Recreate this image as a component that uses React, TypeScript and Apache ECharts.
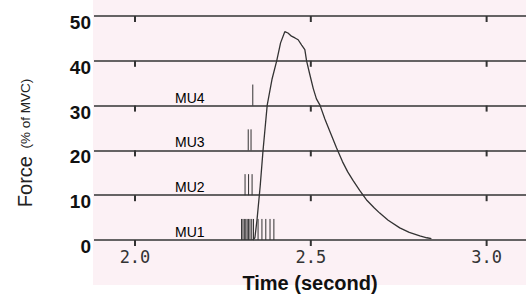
import React, { useEffect, useRef } from "react";
import * as echarts from "echarts";

const xTicks = [2.0, 2.5, 3.0];
const yTicks = [0, 10, 20, 30, 40, 50];

const forceT = [2.335, 2.341, 2.347, 2.356, 2.364, 2.370, 2.376, 2.390, 2.403, 2.414, 2.426, 2.435, 2.445, 2.455, 2.464, 2.474, 2.483, 2.488, 2.497, 2.507, 2.516, 2.526, 2.540, 2.554, 2.573, 2.590, 2.605, 2.620, 2.639, 2.660, 2.680, 2.696, 2.720, 2.753, 2.780, 2.810, 2.830, 2.843];
const forceV = [0, 0.5, 4.5, 12, 19.9, 25, 30.1, 36, 40, 44, 46.5, 46.2, 45.5, 45.1, 44.7, 43.5, 42.5, 40, 37, 33.8, 31.5, 30.1, 27, 24.3, 20.6, 17.5, 15.2, 13.3, 11.1, 8.8, 7.2, 6.0, 4.4, 2.7, 1.7, 0.9, 0.5, 0.3];

const muNames = ["MU1", "MU2", "MU3", "MU4"];
const muBases = [0, 10, 20, 30];
const muLabelT = 2.156;
const muLabelLift = 1.8;
const muSpikeHeight = 4.7;
const mu1T = [2.303, 2.307, 2.311, 2.315, 2.319, 2.323, 2.327, 2.332, 2.337, 2.350, 2.361, 2.372, 2.384, 2.395];
const mu2T = [2.313, 2.323, 2.333];
const mu3T = [2.322, 2.330];
const mu4T = [2.335];
const muTimes = [mu1T, mu2T, mu3T, mu4T];

export default function App() {
  const ref = useRef<HTMLDivElement>(null);
  useEffect(() => {
    if (!ref.current) return;
    const chart = echarts.init(ref.current, undefined, { renderer: "svg" });
    const spikeData: number[][] = [];
    muTimes.forEach((ts, i) => ts.forEach((t) => spikeData.push([t, muBases[i], muBases[i] + muSpikeHeight])));
    const tickData: number[][] = [];
    xTicks.forEach((x) => yTicks.forEach((y) => tickData.push([x, y])));
    const gridColor = "#333";
    chart.setOption({
      animation: false,
      backgroundColor: "#ffffff",
      graphic: [
        {
          type: "rect",
          z: -10,
          silent: true,
          shape: { x: 93, y: 0, width: 433, height: 285 },
          style: { fill: "#fcf1f5" },
        },
        {
          type: "text",
          x: 25,
          y: 143,
          rotation: Math.PI / 2,
          silent: true,
          style: {
            text: "{a|Force}{b|  (% of MVC)}",
            align: "center",
            verticalAlign: "middle",
            rich: {
              a: { fontFamily: "Liberation Sans", fontSize: 20, fill: "#222" },
              b: { fontFamily: "Liberation Sans", fontSize: 13.5, fill: "#222" },
            },
          },
        },
      ],
      grid: { left: 94, right: 0, top: 16, bottom: 54 },
      xAxis: {
        type: "value",
        min: 1.8834,
        max: 3.112,
        axisLine: { show: false },
        axisTick: { show: false },
        splitLine: { show: false },
        axisLabel: {
          customValues: xTicks,
          formatter: (v: number) => v.toFixed(1),
          fontFamily: "DejaVu Sans Mono",
          fontSize: 17,
          color: "#333",
          margin: 8,
        },
        name: "Time (second)",
        nameLocation: "middle",
        nameGap: 33,
        nameTextStyle: { fontFamily: "Liberation Sans", fontWeight: "bold", fontSize: 20, color: "#111" },
      },
      yAxis: {
        type: "value",
        min: 0,
        max: 50,
        interval: 10,
        axisLine: { show: false },
        axisTick: { show: false },
        splitLine: { show: true, lineStyle: { color: gridColor, width: 1.6 } },
        axisLabel: {
          fontFamily: "Liberation Sans",
          fontWeight: "bold",
          fontSize: 19,
          color: "#111",
          margin: 3,
          verticalAlign: "top",
          lineHeight: 13,
        },
      },
      series: [
        {
          type: "custom",
          silent: true,
          data: tickData,
          renderItem: (params: any, api: any) => {
            const p = api.coord([api.value(0), api.value(1)]);
            return {
              type: "line",
              shape: { x1: p[0], y1: p[1], x2: p[0], y2: p[1] + 6 },
              style: { stroke: gridColor, lineWidth: 2 },
            };
          },
        },
        {
          type: "custom",
          silent: true,
          data: spikeData,
          renderItem: (params: any, api: any) => {
            const p1 = api.coord([api.value(0), api.value(1)]);
            const p2 = api.coord([api.value(0), api.value(2)]);
            return {
              type: "line",
              shape: { x1: p1[0], y1: p1[1], x2: p2[0], y2: p2[1] },
              style: { stroke: "#333", lineWidth: 1 },
            };
          },
        },
        {
          type: "line",
          data: forceT.map((t, i) => [t, forceV[i]]),
          showSymbol: false,
          symbol: "none",
          lineStyle: { color: "#333", width: 1.3 },
          z: 5,
        },
        {
          type: "custom",
          silent: true,
          data: muNames.map((n, i) => [muLabelT, muBases[i] + muLabelLift]),
          renderItem: (params: any, api: any) => {
            const p = api.coord([api.value(0), api.value(1)]);
            return {
              type: "text",
              x: p[0],
              y: p[1],
              style: {
                text: muNames[params.dataIndex],
                align: "center",
                verticalAlign: "middle",
                fontFamily: "Liberation Sans",
                fontSize: 14,
                fill: "#000",
              },
            };
          },
        },
      ],
    });
    return () => chart.dispose();
  }, []);
  return <div ref={ref} style={{ width: 526, height: 298, position: "absolute", left: 0, top: 0 }} />;
}
